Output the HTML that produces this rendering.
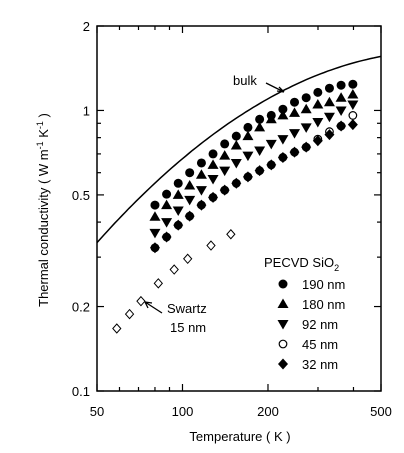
<!DOCTYPE html>
<html><head><meta charset="utf-8"><style>
html,body{margin:0;padding:0;background:#fff;}
svg{display:block;font-family:"Liberation Sans",Arial,sans-serif;}
</style></head><body>
<svg id="chart" width="404" height="453" viewBox="0 0 404 453">
<g id="axes"></g>
<g id="marks"></g>
<g id="legend"></g>
</svg>
<script>
const xTicks=[50,100,200,500];
const yTicks=[0.1,0.2,0.5,1,2];
const Tbase=[80,87.9,96.6,106,116.6,128.1,140.8,154.7,170,186.9,205.4,225.7,248,272.6,299.6,329.2,361.8,398];
const k190=[0.46,0.503,0.55,0.60,0.65,0.70,0.76,0.81,0.87,0.93,0.96,1.01,1.07,1.11,1.16,1.20,1.23,1.24];
const k180=[0.418,0.46,0.50,0.54,0.59,0.64,0.69,0.75,0.81,0.87,0.93,0.96,0.98,1.01,1.05,1.07,1.11,1.14];
const k92=[0.366,0.40,0.44,0.48,0.52,0.57,0.61,0.65,0.69,0.72,0.76,0.79,0.83,0.87,0.91,0.95,1.00,1.05];
const k45=[0.324,0.354,0.39,0.42,0.46,0.49,0.52,0.55,0.58,0.61,0.64,0.68,0.71,0.74,0.79,0.84,0.88,0.96];
const k32=[0.324,0.354,0.39,0.42,0.46,0.49,0.52,0.55,0.58,0.61,0.64,0.68,0.71,0.74,0.78,0.82,0.88,0.89];
const swT=[58.7,65.1,71.4,82.2,93.5,104.3,126,148];
const swK=[0.167,0.188,0.209,0.242,0.271,0.296,0.33,0.362];
const bulkT=[50,58.7,95.5,135,226,300,482];
const bulkK=[0.333,0.41,0.65,0.85,1.17,1.34,1.55];

const NS="http://www.w3.org/2000/svg";
const X0=97,X1=381,Y0=391,Y1=26;
function sx(t){return X0+(X1-X0)*Math.log10(t/50);}
function sy(k){return Y0-(Y0-Y1)*Math.log10(k/0.1)/Math.log10(20);}
function mk(tag,attrs,parent){const e=document.createElementNS(NS,tag);for(const a in attrs)e.setAttribute(a,attrs[a]);parent.appendChild(e);return e;}
const axes=document.getElementById('axes'),marks=document.getElementById('marks'),legend=document.getElementById('legend');

const frame=mk('rect',{x:X0,y:Y1,width:X1-X0,height:Y0-Y1,fill:'none',stroke:'#000','stroke-width':1.5},axes);


for(let d=50;d<=500;d+=(d<100?10:100)){
  const x=sx(d);const major=xTicks.includes(d);const L=major?7:4;
  const t1=mk('line',{x1:x,y1:Y0,x2:x,y2:Y0-L,stroke:'#000','stroke-width':1.2},axes);
  
  
  const t2=mk('line',{x1:x,y1:Y1,x2:x,y2:Y1+L,stroke:'#000','stroke-width':1.2},axes);
  
  
}
xTicks.forEach(v=>{
  const t=mk('text',{x:sx(v),y:416,'font-size':13,'text-anchor':'middle'},axes);t.textContent=v;
  
  
});
const yMinor=[0.1,0.2,0.3,0.4,0.5,0.6,0.7,0.8,0.9,1,2];
yMinor.forEach(v=>{
  const y=sy(v);const major=yTicks.includes(v);const L=major?7:4;
  const t1=mk('line',{x1:X0,y1:y,x2:X0+L,y2:y,stroke:'#000','stroke-width':1.2},axes);
  
  
  const t2=mk('line',{x1:X1,y1:y,x2:X1-L,y2:y,stroke:'#000','stroke-width':1.2},axes);
  
  
});
yTicks.forEach(v=>{
  const t=mk('text',{x:90,y:sy(v)+5,'font-size':13,'text-anchor':'end'},axes);t.textContent=v;
  
  
});
const xt=mk('text',{x:240,y:441,'font-size':13,'text-anchor':'middle'},axes);xt.textContent='Temperature ( K )';


const yt=mk('text',{x:0,y:0,'font-size':13,'text-anchor':'middle',transform:'translate(48,210) rotate(-90)'},axes);
yt.innerHTML='Thermal conductivity ( W m<tspan dy="-5" font-size="9">-1</tspan><tspan dy="5"> K</tspan><tspan dy="-5" font-size="9">-1</tspan><tspan dy="5"> )</tspan>';



// bulk line: least-squares quadratic in log-log space through bulk data
function fitQuad(xs,ys){
  let S=[0,0,0,0,0],R=[0,0,0];
  xs.forEach((x,i)=>{let p=1;for(let j=0;j<5;j++){S[j]+=p;if(j<3)R[j]+=p*ys[i];p*=x;}});
  const A=[[S[0],S[1],S[2],R[0]],[S[1],S[2],S[3],R[1]],[S[2],S[3],S[4],R[2]]];
  for(let i=0;i<3;i++){for(let r=i+1;r<3;r++){const f=A[r][i]/A[i][i];for(let c=i;c<4;c++)A[r][c]-=f*A[i][c];}}
  const c=[0,0,0];for(let i=2;i>=0;i--){let s=A[i][3];for(let j=i+1;j<3;j++)s-=A[i][j]*c[j];c[i]=s/A[i][i];}
  return c;
}
const LX=bulkT.map(t=>Math.log10(t)),LY=bulkK.map(k=>Math.log10(k));
const cf=fitQuad(LX,LY);
let d='';
for(let i=0;i<=80;i++){
  const lt=Math.log10(50)+i/80*(Math.log10(500)-Math.log10(50));
  const lk=cf[0]+cf[1]*lt+cf[2]*lt*lt;
  d+=(i?'L':'M')+sx(Math.pow(10,lt)).toFixed(1)+','+sy(Math.pow(10,lk)).toFixed(1);
}
const bp=mk('path',{d:d,fill:'none',stroke:'#000','stroke-width':1.5},marks);



function marker(type,x,y,parent){
  let e;
  if(type==='circle')e=mk('circle',{cx:x,cy:y,r:4.5,fill:'#000'},parent);
  else if(type==='ocircle')e=mk('circle',{cx:x,cy:y,r:3.8,fill:'#fff',stroke:'#000','stroke-width':1.2},parent);
  else if(type==='up')e=mk('path',{d:`M${x},${y-5.5}L${x+5.5},${y+4}L${x-5.5},${y+4}Z`,fill:'#000'},parent);
  else if(type==='down')e=mk('path',{d:`M${x},${y+5.5}L${x+5.5},${y-4}L${x-5.5},${y-4}Z`,fill:'#000'},parent);
  else if(type==='diamond')e=mk('path',{d:`M${x},${y-5.5}L${x+5},${y}L${x},${y+5.5}L${x-5},${y}Z`,fill:'#000'},parent);
  else e=mk('path',{d:`M${x},${y-4.5}L${x+4},${y}L${x},${y+4.5}L${x-4},${y}Z`,fill:'#fff',stroke:'#000','stroke-width':1},parent);
  return e;
}
const series=[['ocircle',k45,'45nm'],['diamond',k32,'32nm'],['down',k92,'92nm'],['up',k180,'180nm'],['circle',k190,'190nm']];
series.forEach(([type,arr,n])=>{
  arr.forEach((k,i)=>{
    const e=marker(type,sx(Tbase[i]),sy(k),marks);
    
    
  });
});
swT.forEach((t,i)=>{
  const e=marker('odiamond',sx(t),sy(swK[i]),marks);
  
  
});

const bl=mk('text',{x:233,y:85,'font-size':13},marks);bl.textContent='bulk';


const ba=mk('path',{d:'M266,83L284,92M284,92L277,91M284,92L279,87',stroke:'#000','stroke-width':1.3,fill:'none'},marks);


const sl=mk('text',{x:167,y:313,'font-size':13},marks);sl.textContent='Swartz';


const sl2=mk('text',{x:170,y:332,'font-size':13},marks);sl2.textContent='15 nm';


const sa=mk('path',{d:'M162,313L145,302M145,302L148,308M145,302L152,303',stroke:'#000','stroke-width':1.3,fill:'none'},marks);



const lt0=mk('text',{x:264,y:267,'font-size':13},legend);
lt0.innerHTML='PECVD SiO<tspan dy="4" font-size="9">2</tspan>';


const legTypes=['circle','up','down','ocircle','diamond'];
const legLabels=['190 nm','180 nm','92 nm','45 nm','32 nm'];
legLabels.forEach((l,i)=>{
  const y=284+i*20;
  const m=marker(legTypes[i],283,y,legend);
  
  
  const t=mk('text',{x:302,y:y+5,'font-size':13},legend);t.textContent=l;
  
  
});
</script>
</body></html>
